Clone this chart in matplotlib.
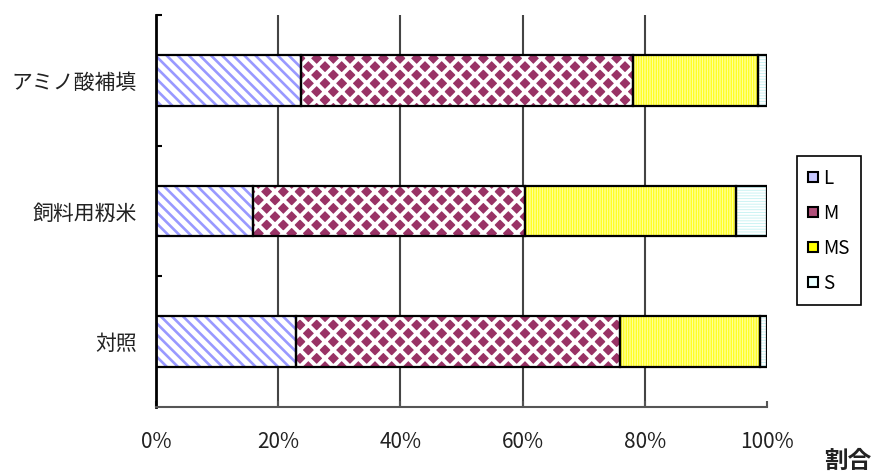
import matplotlib
matplotlib.use("Agg")
import matplotlib.pyplot as plt
from matplotlib.patches import Patch
import numpy as np

plt.rcParams["font.family"] = ["Noto Sans CJK JP", "DejaVu Sans"]

# categories, top to bottom
groups = ["アミノ酸補填", "飼料用籾米", "対照"]
series = ["L", "M", "MS", "S"]

# share of each size class (%)
L = [23.7, 15.9, 22.9]
M = [54.3, 44.5, 53.0]
MS = [20.6, 34.5, 22.9]
S = [1.4, 5.1, 1.2]

xticks = [0, 20, 40, 60, 80, 100]
xticklabels = ["0%", "20%", "40%", "60%", "80%", "100%"]

# face colour, hatch, hatch colour, hatch width
styles = {
    "L": ("white", "\\" * 3, "#9999FF", 1.9),
    "M": ("#993366", "xx", "white", 2.8),
    "MS": ("#FFFF00", "|" * 10, "#FFFFD8", 0.5),
    "S": ("white", "-" * 6, "#C4F2F2", 0.6),
}
legend_faces = {"L": "#C8C8FF", "M": "#B0507A", "MS": "#FFFF00", "S": "#E8FFFF"}

fig = plt.figure(figsize=(8.81, 4.71), dpi=100)
ax = fig.add_axes([0.1771, 0.1359, 0.6935, 0.8323])

y = np.arange(len(groups))[::-1]
left = np.zeros(len(groups))
for name, vals in zip(series, [L, M, MS, S]):
    face, hatch, hcol, hlw = styles[name]
    vals = np.array(vals)
    plt.rcParams["hatch.linewidth"] = hlw
    bars = ax.barh(y, vals, left=left, height=0.39, color=face,
                   edgecolor=hcol, hatch=hatch, linewidth=0, zorder=2)
    for b in bars:
        if hasattr(b, "set_hatch_linewidth"):
            b.set_hatch_linewidth(hlw)
    ax.barh(y, vals, left=left, height=0.39, fill=False,
            edgecolor="black", linewidth=1.6, zorder=3)
    left += vals

ax.set_xlim(0, 100)
ax.set_ylim(-0.5, len(groups) - 0.5)

for t in xticks[1:-1]:
    ax.axvline(t, color="#444444", linewidth=1.5, zorder=1)

ax.set_xticks(xticks)
ax.set_xticklabels(xticklabels, fontsize=15, color="#222222")
ax.tick_params(axis="x", direction="in", length=4, width=1.5,
               color="#555555", pad=17)

ax.set_yticks(y)
ax.set_yticklabels(groups, fontsize=15, color="#222222")
ax.tick_params(axis="y", which="major", length=0, pad=14)
ax.set_yticks([0.5, 1.5, 2.5], minor=True)
ax.tick_params(axis="y", which="minor", direction="in", length=4,
               width=1.5, color="black")

for side in ["top", "right"]:
    ax.spines[side].set_visible(False)
ax.spines["left"].set_linewidth(2)
ax.spines["left"].set_color("black")
ax.spines["bottom"].set_linewidth(1.5)
ax.spines["bottom"].set_color("#555555")

handles = [Patch(facecolor=legend_faces[s], edgecolor="black", linewidth=1.5)
           for s in series]
leg = fig.legend(handles, series, loc="upper left",
                 bbox_to_anchor=(0.9047, 0.668), borderaxespad=0,
                 fontsize=13.5, handlelength=0.5, handleheight=0.5,
                 handletextpad=0.3, labelspacing=0.75, borderpad=0.6,
                 fancybox=False, framealpha=1, edgecolor="black")
leg.get_frame().set_linewidth(1.2)

fig.text(0.935, 0.022, "割合", fontsize=17, fontweight="bold",
         ha="left", va="center", color="#222222")

fig.savefig("out.png", dpi=100)
